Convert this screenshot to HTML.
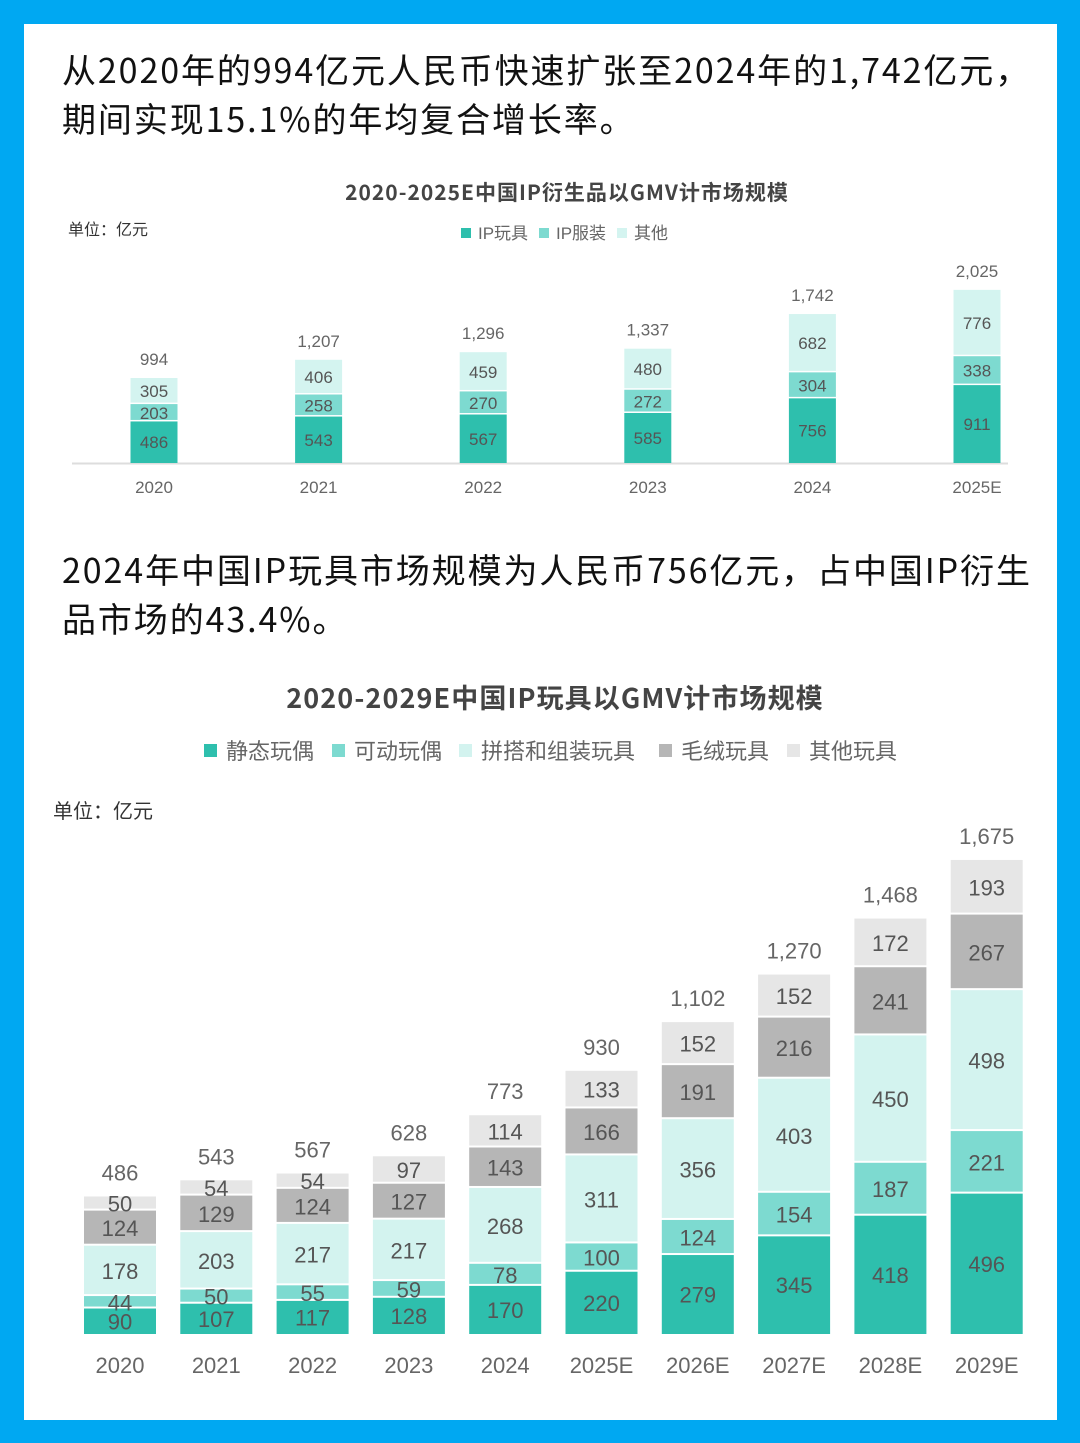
<!DOCTYPE html>
<html><head><meta charset="utf-8"><style>
html,body{margin:0;padding:0}
body{width:1080px;height:1443px;background:#00a8f2;position:relative;overflow:hidden;font-family:"Liberation Sans","Noto Sans CJK SC",sans-serif}
#card{position:absolute;left:24px;top:24px;width:1033px;height:1396px;background:#fff}
.h{position:absolute;left:62px;font-size:34px;line-height:49px;color:#111;font-family:"Noto Sans CJK SC",sans-serif;white-space:nowrap;letter-spacing:1.9px}
svg{position:absolute;left:0;top:0}
</style></head><body>
<div id="card"></div>
<div class="h" style="top:44px">从2020年的994亿元人民币快速扩张至2024年的1,742亿元，<br>期间实现15.1%的年均复合增长率。</div>
<div class="h" style="top:544px">2024年中国IP玩具市场规模为人民币756亿元，占中国IP衍生<br>品市场的43.4%。</div>
<svg id="s" width="1080" height="1443"></svg>
<script>
const c1Cats=["2020","2021","2022","2023","2024","2025E"];
const c1Toy=[486,543,567,585,756,911];
const c1Cloth=[203,258,270,272,304,338];
const c1Other=[305,406,459,480,682,776];
const c1Tot=["994","1,207","1,296","1,337","1,742","2,025"];

const c2Cats=["2020","2021","2022","2023","2024","2025E","2026E","2027E","2028E","2029E"];
const c2Static=[90,107,117,128,170,220,279,345,418,496];
const c2Move=[44,50,55,59,78,100,124,154,187,221];
const c2Build=[178,203,217,217,268,311,356,403,450,498];
const c2Plush=[124,129,124,127,143,166,191,216,241,267];
const c2Other=[50,54,54,97,114,133,152,152,172,193];
const c2Tot=["486","543","567","628","773","930","1,102","1,270","1,468","1,675"];

const S=document.getElementById('s');const NS="http://www.w3.org/2000/svg";
function el(t,a,txt){const e=document.createElementNS(NS,t);for(const k in a)e.setAttribute(k,a[k]);if(txt!==undefined)e.textContent=txt;S.appendChild(e);return e;}
const F='"Liberation Sans","Noto Sans CJK SC",sans-serif';
const FN='"Noto Sans CJK SC",sans-serif';

// chart 1
let t=el('text',{x:567,y:200,'text-anchor':'middle','font-size':21,'font-weight':'bold',fill:'#444','font-family':FN,'letter-spacing':1},'2020-2025E中国IP衍生品以GMV计市场规模');


t=el('text',{x:68,y:235,'font-size':16,fill:'#333','font-family':F},'单位：亿元');


const l1=[["IP玩具","#2ebfad"],["IP服装","#7ddad0"],["其他","#d4f4f0"]];
let lx=[461,539,617];
l1.forEach((d,i)=>{let r=el('rect',{x:lx[i],y:228,width:10,height:10,fill:d[1]});
let tt=el('text',{x:lx[i]+17,y:239,'font-size':17,fill:'#666','font-family':F},d[0]);});
const b1=463,k1=0.0855;
function x1(i){return 154+i*164.6;}
function y1(v){return b1-v*k1;}
let ax=el('line',{x1:72,x2:1008,y1:b1+0.5,y2:b1+0.5,stroke:'#ddd','stroke-width':2});
c1Cats.forEach((c,i)=>{
  let base=0;const segs=[[c1Toy[i],"#2ebfad"],[c1Cloth[i],"#7ddad0"],[c1Other[i],"#d4f4f0"]];
  segs.forEach((s,j)=>{const y0=y1(base),yt=y1(base+s[0]);
    const g=j===0?0:1.5;
    let r=el('rect',{x:x1(i)-23.5,y:yt,width:47,height:y0-yt-g,fill:s[1]});
    
    let tx=el('text',{x:x1(i),y:(y0+yt)/2+6,'text-anchor':'middle','font-size':17,fill:'#555','font-family':F},s[0]);
    
    base+=s[0];});
  let tl=el('text',{x:x1(i),y:y1(base)-13,'text-anchor':'middle','font-size':17,fill:'#666','font-family':F},c1Tot[i]);
  
  let cl=el('text',{x:x1(i),y:493,'text-anchor':'middle','font-size':17,fill:'#666','font-family':F},c);
  
});

// chart 2
t=el('text',{x:555,y:708,'text-anchor':'middle','font-size':27,'font-weight':'bold',fill:'#444','font-family':FN,'letter-spacing':1.1},'2020-2029E中国IP玩具以GMV计市场规模');


t=el('text',{x:53,y:818,'font-size':20,fill:'#333','font-family':F},'单位：亿元');


const cols2=["#2ebfad","#7ddad0","#d3f3ef","#b6b6b6","#e6e6e6"];
const l2=["静态玩偶","可动玩偶","拼搭和组装玩具","毛绒玩具","其他玩具"];
lx=[204,332,459,659,787];
l2.forEach((d,i)=>{let r=el('rect',{x:lx[i],y:744,width:13,height:13,fill:cols2[i]});
let tt=el('text',{x:lx[i]+22,y:759,'font-size':22,fill:'#666','font-family':F},d);});
const b2=1334,k2=0.283;
function x2(i){return 120+i*96.3;}
function y2(v){return b2-v*k2;}
c2Cats.forEach((c,i)=>{
  let base=0;const vals=[c2Static[i],c2Move[i],c2Build[i],c2Plush[i],c2Other[i]];
  vals.forEach((v,j)=>{const y0=y2(base),yt=y2(base+v);
    const g=j===0?0:2;
    let r=el('rect',{x:x2(i)-36,y:yt,width:72,height:y0-yt-g,fill:cols2[j]});
    
    let tx=el('text',{x:x2(i),y:(y0+yt)/2+8,'text-anchor':'middle','font-size':22,fill:'#555','font-family':F},v);
    
    base+=v;});
  let tl=el('text',{x:x2(i),y:y2(base)-16,'text-anchor':'middle','font-size':22,fill:'#666','font-family':F},c2Tot[i]);
  
  let cl=el('text',{x:x2(i),y:1373,'text-anchor':'middle','font-size':22,fill:'#666','font-family':F},c);
  
});
</script>
</body></html>
